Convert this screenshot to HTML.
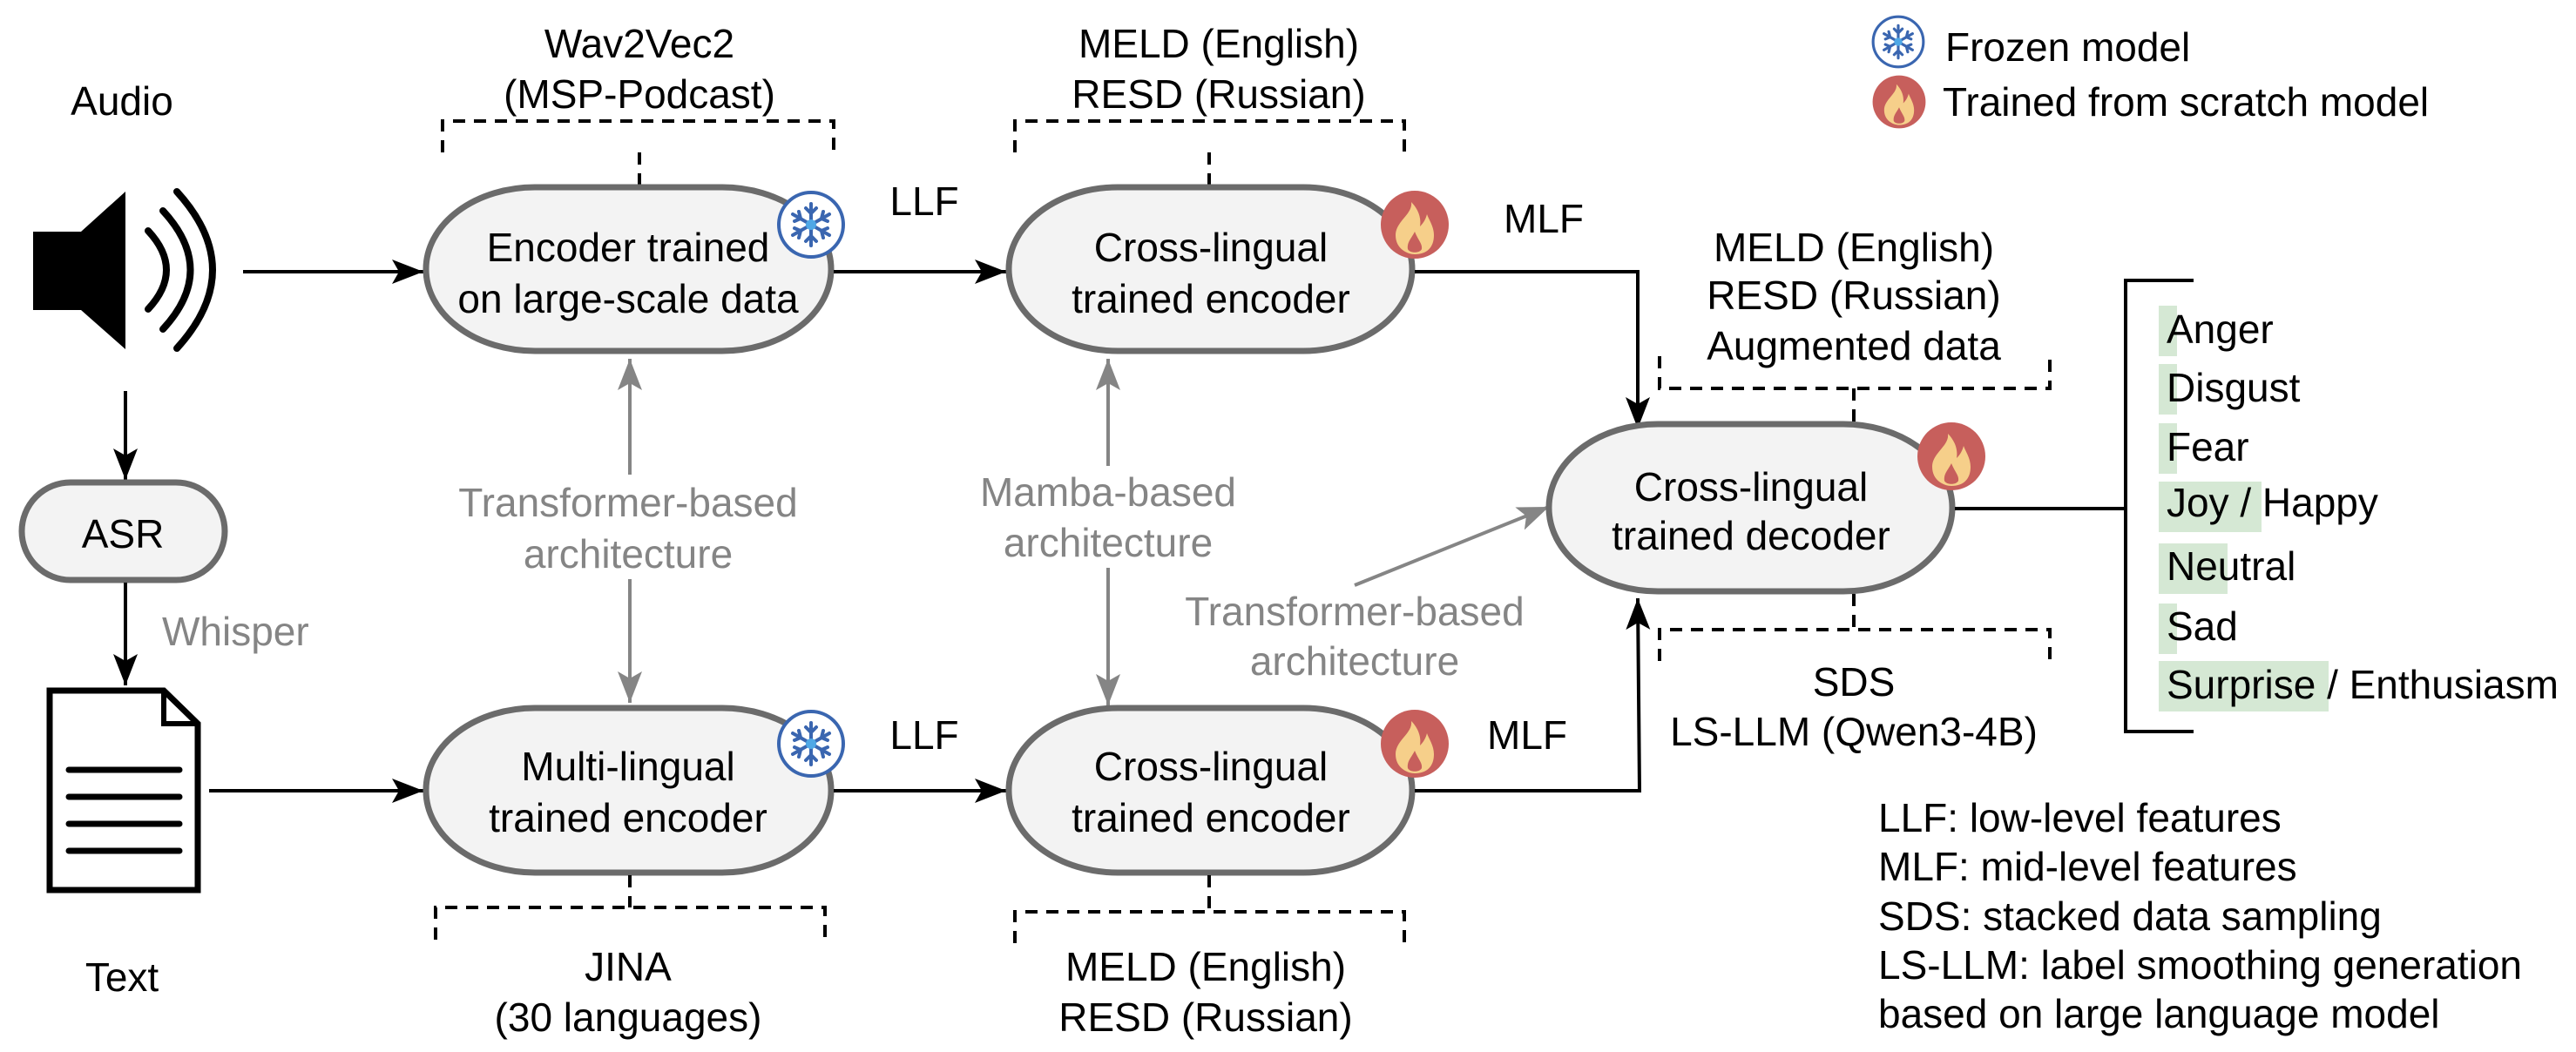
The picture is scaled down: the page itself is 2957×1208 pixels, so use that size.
<!DOCTYPE html>
<html><head><meta charset="utf-8"><style>
html,body{margin:0;padding:0;background:#fff;}
svg{display:block;}
text{font-family:"Liberation Sans",Arial,sans-serif;font-size:46px;fill:#000;}
.g{fill:#858585;}
</style></head><body>
<svg width="2957" height="1208" viewBox="0 0 2957 1208" xmlns="http://www.w3.org/2000/svg">
<defs>
<marker id="ab" markerWidth="40" markerHeight="40" refX="36" refY="14" orient="auto" markerUnits="userSpaceOnUse">
<path d="M0,0 L36,14 L0,28 L8,14 Z" fill="#000"/></marker>
<marker id="ag" markerWidth="40" markerHeight="40" refX="36" refY="14" orient="auto" markerUnits="userSpaceOnUse">
<path d="M0,0 L36,14 L0,28 L8,14 Z" fill="#858585"/></marker>
<g id="snow">
<ellipse cx="0" cy="0" rx="37" ry="37" fill="#fff" stroke="#3a66b0" stroke-width="4"/>
<g stroke="#3a66b0" stroke-width="4" stroke-linecap="round">
<line x1="0" y1="-24" x2="0" y2="24"/><line x1="-21" y1="-12" x2="21" y2="12"/><line x1="-21" y1="12" x2="21" y2="-12"/>
<path d="M-6,-19 L0,-13 L6,-19 M-6,19 L0,13 L6,19" fill="none"/>
<path d="M-19,-4 L-12,-7 L-14,-15 M19,4 L12,7 L14,15 M-19,4 L-12,7 L-14,15 M19,-4 L12,-7 L14,-15" fill="none"/>
</g>
<circle r="6" fill="#4fa8e6"/>
</g>
<g id="fire">
<circle r="39" fill="#c75f5c"/>
<path d="M-4,-26 C-2,-12 -22,-4 -22,12 C-22,28 -8,34 0,34 C14,34 22,26 22,12 C22,2 16,-6 14,-12 C12,-4 8,0 6,2 C8,-10 2,-20 -4,-26 Z" fill="#f6cf8a"/>
<path d="M0,8 C-4,16 -9,20 -8,28 C-6,33 6,33 8,28 C9,22 4,18 0,8 Z" fill="#c75f5c"/>
</g>
</defs>

<!-- Audio -->
<text x="140" y="116" text-anchor="middle" dominant-baseline="central">Audio</text>
<path d="M38,266 L93,266 L144,220 L144,401 L93,356 L38,356 Z" fill="#000"/>
<g fill="none" stroke="#000" stroke-width="8" stroke-linecap="round">
<path d="M170,265 Q212,310 170,355"/>
<path d="M187,242 Q250,310 187,378"/>
<path d="M203,220 Q285,310 203,400"/>
</g>
<line x1="279" y1="312" x2="486" y2="312" stroke="#000" stroke-width="4" marker-end="url(#ab)"/>
<line x1="144" y1="449" x2="144" y2="551" stroke="#000" stroke-width="4" marker-end="url(#ab)"/>
<rect x="25" y="554" width="233" height="112" rx="56" ry="56" fill="#f3f3f3" stroke="#6b6b6b" stroke-width="7"/>
<text x="141" y="613" text-anchor="middle" dominant-baseline="central">ASR</text>
<line x1="144" y1="669" x2="144" y2="787" stroke="#000" stroke-width="4" marker-end="url(#ab)"/>
<text x="186" y="725" class="g" dominant-baseline="central">Whisper</text>
<path d="M57,793 L188,793 L227,831 L227,1022 L57,1022 Z" fill="#fff" stroke="#000" stroke-width="7"/>
<path d="M188,793 L188,831 L227,831" fill="none" stroke="#000" stroke-width="6"/>
<g stroke="#000" stroke-width="7" stroke-linecap="round">
<line x1="79" y1="884" x2="206" y2="884"/><line x1="79" y1="915" x2="206" y2="915"/>
<line x1="79" y1="946" x2="206" y2="946"/><line x1="79" y1="977" x2="206" y2="977"/>
</g>
<text x="140" y="1122" text-anchor="middle" dominant-baseline="central">Text</text>
<line x1="240" y1="908" x2="486" y2="908" stroke="#000" stroke-width="4" marker-end="url(#ab)"/>

<!-- Encoder 1 -->
<path d="M508,175 L508,139 L957,139 L957,175 M734,175 L734,212" fill="none" stroke="#000" stroke-width="4" stroke-dasharray="14,10"/>
<text x="734" y="50" text-anchor="middle" dominant-baseline="central">Wav2Vec2</text>
<text x="734" y="108" text-anchor="middle" dominant-baseline="central">(MSP-Podcast)</text>
<rect x="489" y="215" width="465" height="188" rx="125" ry="94" fill="#f3f3f3" stroke="#6b6b6b" stroke-width="7"/>
<text x="721" y="284" text-anchor="middle" dominant-baseline="central">Encoder trained</text>
<text x="721" y="343" text-anchor="middle" dominant-baseline="central">on large-scale data</text>
<use href="#snow" x="931" y="258"/>

<line x1="723" y1="545" x2="723" y2="412" stroke="#858585" stroke-width="4" marker-end="url(#ag)"/>
<line x1="723" y1="665" x2="723" y2="807" stroke="#858585" stroke-width="4" marker-end="url(#ag)"/>
<text x="721" y="577" class="g" text-anchor="middle" dominant-baseline="central">Transformer-based</text>
<text x="721" y="636" class="g" text-anchor="middle" dominant-baseline="central">architecture</text>

<!-- Encoder 2 -->
<rect x="489" y="813" width="465" height="189" rx="125" ry="94" fill="#f3f3f3" stroke="#6b6b6b" stroke-width="7"/>
<text x="721" y="880" text-anchor="middle" dominant-baseline="central">Multi-lingual</text>
<text x="721" y="939" text-anchor="middle" dominant-baseline="central">trained encoder</text>
<use href="#snow" x="931" y="854"/>
<path d="M723,1005 L723,1042 M500,1079 L500,1042 L947,1042 L947,1079" fill="none" stroke="#000" stroke-width="4" stroke-dasharray="14,10"/>
<text x="721" y="1110" text-anchor="middle" dominant-baseline="central">JINA</text>
<text x="721" y="1168" text-anchor="middle" dominant-baseline="central">(30 languages)</text>

<!-- LLF arrows -->
<line x1="957" y1="312" x2="1155" y2="312" stroke="#000" stroke-width="4" marker-end="url(#ab)"/>
<line x1="957" y1="908" x2="1155" y2="908" stroke="#000" stroke-width="4" marker-end="url(#ab)"/>
<text x="1061" y="231" text-anchor="middle" dominant-baseline="central">LLF</text>
<text x="1061" y="844" text-anchor="middle" dominant-baseline="central">LLF</text>

<!-- Cross encoder 1 -->
<path d="M1165,175 L1165,139 L1612,139 L1612,175 M1388,175 L1388,212" fill="none" stroke="#000" stroke-width="4" stroke-dasharray="14,10"/>
<text x="1399" y="50" text-anchor="middle" dominant-baseline="central">MELD (English)</text>
<text x="1399" y="108" text-anchor="middle" dominant-baseline="central">RESD (Russian)</text>
<rect x="1158" y="215" width="463" height="188" rx="125" ry="94" fill="#f3f3f3" stroke="#6b6b6b" stroke-width="7"/>
<text x="1390" y="284" text-anchor="middle" dominant-baseline="central">Cross-lingual</text>
<text x="1390" y="343" text-anchor="middle" dominant-baseline="central">trained encoder</text>
<use href="#fire" x="1624" y="258"/>

<line x1="1272" y1="535" x2="1272" y2="412" stroke="#858585" stroke-width="4" marker-end="url(#ag)"/>
<line x1="1272" y1="652" x2="1272" y2="810" stroke="#858585" stroke-width="4" marker-end="url(#ag)"/>
<text x="1272" y="565" class="g" text-anchor="middle" dominant-baseline="central">Mamba-based</text>
<text x="1272" y="623" class="g" text-anchor="middle" dominant-baseline="central">architecture</text>

<!-- Cross encoder 2 -->
<rect x="1158" y="813" width="463" height="189" rx="125" ry="94" fill="#f3f3f3" stroke="#6b6b6b" stroke-width="7"/>
<text x="1390" y="880" text-anchor="middle" dominant-baseline="central">Cross-lingual</text>
<text x="1390" y="939" text-anchor="middle" dominant-baseline="central">trained encoder</text>
<use href="#fire" x="1624" y="854"/>
<path d="M1388,1005 L1388,1047 M1165,1083 L1165,1047 L1612,1047 L1612,1083" fill="none" stroke="#000" stroke-width="4" stroke-dasharray="14,10"/>
<text x="1384" y="1110" text-anchor="middle" dominant-baseline="central">MELD (English)</text>
<text x="1384" y="1168" text-anchor="middle" dominant-baseline="central">RESD (Russian)</text>

<!-- MLF -->
<text x="1772" y="251" text-anchor="middle" dominant-baseline="central">MLF</text>
<text x="1753" y="844" text-anchor="middle" dominant-baseline="central">MLF</text>
<path d="M1624,312 L1880,312 L1880,492" fill="none" stroke="#000" stroke-width="4" marker-end="url(#ab)"/>
<path d="M1624,908 L1882,908 L1880,687" fill="none" stroke="#000" stroke-width="4" marker-end="url(#ab)"/>

<!-- Transformer 2 -->
<line x1="1555" y1="672" x2="1778" y2="582" stroke="#858585" stroke-width="4" marker-end="url(#ag)"/>
<text x="1555" y="702" class="g" text-anchor="middle" dominant-baseline="central">Transformer-based</text>
<text x="1555" y="759" class="g" text-anchor="middle" dominant-baseline="central">architecture</text>

<!-- Decoder -->
<path d="M1905,409 L1905,446 L2353,446 L2353,409 M2128,446 L2128,484" fill="none" stroke="#000" stroke-width="4" stroke-dasharray="14,10"/>
<text x="2128" y="284" text-anchor="middle" dominant-baseline="central">MELD (English)</text>
<text x="2128" y="339" text-anchor="middle" dominant-baseline="central">RESD (Russian)</text>
<text x="2128" y="397" text-anchor="middle" dominant-baseline="central">Augmented data</text>
<rect x="1778" y="487" width="463" height="192" rx="125" ry="96" fill="#f3f3f3" stroke="#6b6b6b" stroke-width="7"/>
<text x="2010" y="559" text-anchor="middle" dominant-baseline="central">Cross-lingual</text>
<text x="2010" y="615" text-anchor="middle" dominant-baseline="central">trained decoder</text>
<use href="#fire" x="2240" y="524"/>
<path d="M2128,682 L2128,723 M1905,759 L1905,723 L2353,723 L2353,759" fill="none" stroke="#000" stroke-width="4" stroke-dasharray="14,10"/>
<text x="2128" y="783" text-anchor="middle" dominant-baseline="central">SDS</text>
<text x="2128" y="840" text-anchor="middle" dominant-baseline="central">LS-LLM (Qwen3-4B)</text>

<!-- Output bracket -->
<line x1="2244" y1="584" x2="2440" y2="584" stroke="#000" stroke-width="4"/>
<path d="M2518,322 L2440,322 L2440,840 L2518,840" fill="none" stroke="#000" stroke-width="4"/>
<g fill="#d5e8d4">
<rect x="2478" y="351" width="21" height="58"/>
<rect x="2478" y="418" width="21" height="58"/>
<rect x="2478" y="486" width="21" height="58"/>
<rect x="2478" y="553" width="118" height="58"/>
<rect x="2478" y="624" width="79" height="58"/>
<rect x="2478" y="693" width="21" height="58"/>
<rect x="2478" y="759" width="195" height="58"/>
</g>
<text x="2487" y="378" dominant-baseline="central">Anger</text>
<text x="2487" y="445" dominant-baseline="central">Disgust</text>
<text x="2487" y="513" dominant-baseline="central">Fear</text>
<text x="2487" y="577" dominant-baseline="central">Joy / Happy</text>
<text x="2487" y="650" dominant-baseline="central">Neutral</text>
<text x="2487" y="719" dominant-baseline="central">Sad</text>
<text x="2487" y="786" dominant-baseline="central">Surprise / Enthusiasm</text>

<!-- Legend -->
<use href="#snow" x="2179" y="48" transform="translate(2179 48) scale(0.78) translate(-2179 -48)"/>
<use href="#fire" x="2180" y="117" transform="translate(2180 117) scale(0.78) translate(-2180 -117)"/>
<text x="2233" y="54" dominant-baseline="central">Frozen model</text>
<text x="2230" y="117" dominant-baseline="central">Trained from scratch model</text>

<text x="2156" y="939" dominant-baseline="central">LLF: low-level features</text>
<text x="2156" y="995" dominant-baseline="central">MLF: mid-level features</text>
<text x="2156" y="1052" dominant-baseline="central">SDS: stacked data sampling</text>
<text x="2156" y="1108" dominant-baseline="central">LS-LLM: label smoothing  generation</text>
<text x="2156" y="1164" dominant-baseline="central">based on large language model</text>
</svg>
</body></html>
